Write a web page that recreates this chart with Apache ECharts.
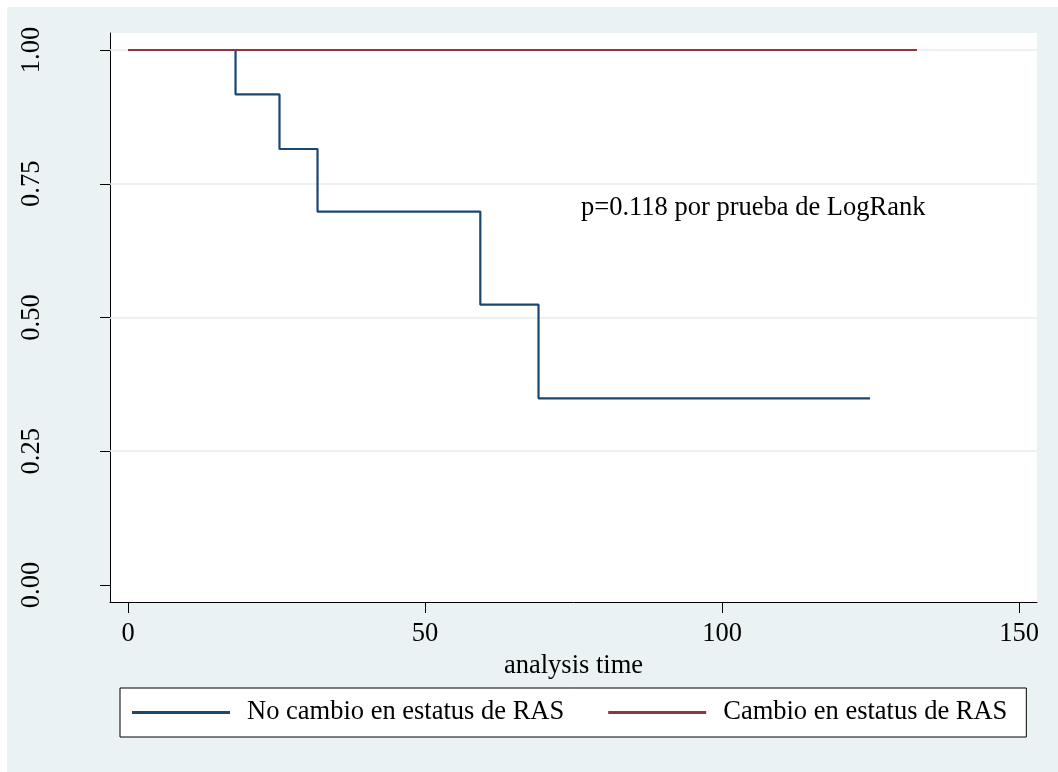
<!DOCTYPE html>
<html>
<head>
<meta charset="utf-8">
<style>
html,body{margin:0;padding:0;background:#fff;}
#chart{width:1058px;height:772px;}
</style>
<script src="https://cdn.jsdelivr.net/npm/echarts@6/dist/echarts.min.js"></script>
</head>
<body>
<div id="chart"></div>
<script>
// Data
const seriesNames = ['No cambio en estatus de RAS', 'Cambio en estatus de RAS'];
const noCambioTimes = [0, 18.1, 25.5, 31.9, 59.3, 69.1, 124.9];
const noCambioSurv  = [1.0, 0.917, 0.815, 0.698, 0.524, 0.349, 0.349];
const cambioTimes = [0, 132.8];
const cambioSurv  = [1.0, 1.0];
const xTicks = [0, 50, 100, 150];
const yTicks = [0, 0.25, 0.5, 0.75, 1.0];
const yGrid = [0.25, 0.5, 0.75, 1.0];
const annotation = 'p=0.118 por prueba de LogRank';
const xTitle = 'analysis time';

const FONT = "'Liberation Serif','Times New Roman',serif";
const toPairs = (xs, ys) => xs.map((x, i) => [x, ys[i]]);

const chart = echarts.init(document.getElementById('chart'), null, {renderer: 'canvas'});
chart.setOption({
  backgroundColor: '#ffffff',
  animation: false,
  graphic: [
    {type: 'rect', z: -10, shape: {x: 7, y: 7, width: 1051, height: 765}, style: {fill: '#EAF2F3'}},
    {type: 'rect', z: -9, shape: {x: 110, y: 33, width: 927, height: 569}, style: {fill: '#ffffff'}},
    {type: 'text', x: 581, y: 208, style: {text: annotation, font: "26.5px " + FONT, fill: '#000', textVerticalAlign: 'middle', textAlign: 'left'}}
  ],
  grid: {left: 110, right: 21, top: 33, bottom: 170, containLabel: false},
  legend: {
    data: seriesNames,
    left: 120, top: 688,
    orient: 'horizontal',
    icon: 'rect',
    itemWidth: 98, itemHeight: 3, itemGap: 44,
    padding: [11, 19, 11, 12],
    borderColor: '#000', borderWidth: 1, backgroundColor: '#fff',
    textStyle: {fontFamily: FONT, fontSize: 26.5, color: '#000', padding: [0, 0, 0, 12]},
    selectedMode: false
  },
  xAxis: {
    type: 'value', min: -3.03, max: 153.0,
    name: xTitle, nameLocation: 'middle', nameGap: 47,
    nameTextStyle: {fontFamily: FONT, fontSize: 26.5, color: '#000'},
    axisLine: {show: true, onZero: false, lineStyle: {color: '#000', width: 1}},
    axisTick: {show: true, length: 11, customValues: xTicks, lineStyle: {color: '#000'}},
    axisLabel: {customValues: xTicks, fontFamily: FONT, fontSize: 26.5, color: '#000', margin: 19, formatter: v => String(v)},
    splitLine: {show: false}
  },
  yAxis: {
    type: 'value', min: -0.0318, max: 1.0318,
    axisLine: {show: true, onZero: false, lineStyle: {color: '#000', width: 1}},
    axisTick: {show: true, length: 10, customValues: yTicks, lineStyle: {color: '#000'}},
    axisLabel: {customValues: yTicks, rotate: 90, fontFamily: FONT, fontSize: 26.5, color: '#000', margin: 64, formatter: v => v.toFixed(2)},
    splitLine: {show: false}
  },
  series: [
    {
      name: 'grid', type: 'line', data: [], z: 1, silent: true,
      markLine: {
        silent: true, symbol: 'none', label: {show: false}, z: 1,
        lineStyle: {color: '#E6EEF1', width: 1.5, type: 'solid'},
        data: yGrid.map(v => ({yAxis: v}))
      }
    },
    {
      name: seriesNames[0], type: 'line', step: 'end', z: 3,
      data: toPairs(noCambioTimes, noCambioSurv),
      symbol: 'none', color: '#1A476F',
      lineStyle: {color: '#1A476F', width: 2.2}
    },
    {
      name: seriesNames[1], type: 'line', z: 3,
      data: toPairs(cambioTimes, cambioSurv),
      symbol: 'none', color: '#90353B',
      lineStyle: {color: '#90353B', width: 2.2}
    }
  ]
});
</script>
</body>
</html>
